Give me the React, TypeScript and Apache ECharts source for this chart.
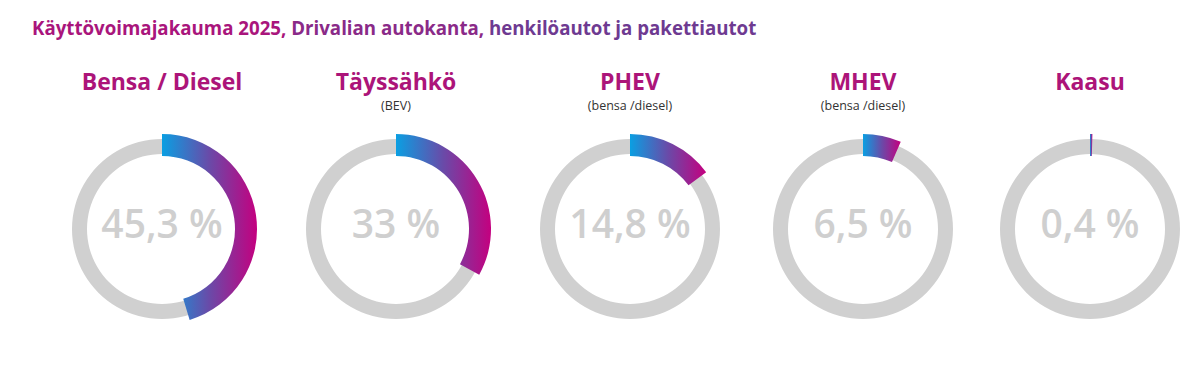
import React, { useEffect, useRef } from "react";
import * as echarts from "echarts";

const titleParts = ["Käyttövoimajakauma 2025, ", "Drivalian autokanta, ", "henkilöautot ja pakettiautot"];
const titleColors = ["#a9157c", "#8a2a88", "#6e3a91"];
const names = ["Bensa / Diesel", "Täyssähkö", "PHEV", "MHEV", "Kaasu"];
const subNames = ["", "(BEV)", "(bensa /diesel)", "(bensa /diesel)", ""];
const shares = [45.3, 33, 14.8, 6.5, 0.4];
const centersX = [162, 396, 630, 863, 1090];

const CY = 229;
const FONT = "'Open Sans', Lato, sans-serif";

function fmt(v: number) {
  return String(v).replace(".", ",") + " %";
}

export default function App() {
  const ref = useRef<HTMLDivElement>(null);
  useEffect(() => {
    if (!ref.current) return;
    const chart = echarts.init(ref.current, undefined, { renderer: "svg" });
    const series: any[] = [];
    const graphic: any[] = [];
    names.forEach((n, i) => {
      const cx = centersX[i];
      series.push({
        type: "pie",
        silent: true,
        center: [cx, CY],
        radius: [75, 90],
        startAngle: 90,
        label: { show: false },
        labelLine: { show: false },
        itemStyle: { color: "#d0d0d0" },
        data: [{ value: 100, name: n + "-bg" }],
        z: 1,
      });
      series.push({
        type: "pie",
        silent: true,
        center: [cx, CY],
        radius: [73, 95],
        startAngle: 90,
        clockwise: true,
        minAngle: 0,
        labelLine: { show: false },
        data: [
          {
            value: shares[i],
            name: n,
            itemStyle: {
              color: new echarts.graphic.LinearGradient(0, 0, 1, 0, [
                { offset: 0, color: "#0a9fe2" },
                { offset: 0.5, color: "#6a4aa8" },
                { offset: 1, color: "#c4007f" },
              ]),
            },
            label: {
              show: true,
              position: "center",
              formatter: fmt(shares[i]),
              fontFamily: FONT,
              fontWeight: 600,
              fontSize: 39,
              color: "#cfcfcf",
              offset: [0, -7],
            },
          },
          {
            value: 100 - shares[i],
            name: n + "-rest",
            itemStyle: { color: "transparent" },
            label: { show: false },
          },
        ],
        z: 2,
      });
      graphic.push({
        type: "text",
        x: cx,
        y: 81,
        style: {
          text: n,
          align: "center",
          verticalAlign: "middle",
          font: `bold 23px ${FONT}`,
          fill: "#ac1479",
        },
      });
      if (subNames[i]) {
        graphic.push({
          type: "text",
          x: cx,
          y: 105,
          style: {
            text: subNames[i],
            align: "center",
            verticalAlign: "middle",
            font: `12.5px ${FONT}`,
            fill: "#333333",
          },
        });
      }
    });
    const rich: any = {};
    titleParts.forEach((_, i) => {
      rich["p" + i] = {
        fontFamily: FONT,
        fontWeight: "bold",
        fontSize: 18.7,
        fill: titleColors[i],
        color: titleColors[i],
      };
    });
    graphic.push({
      type: "text",
      x: 32,
      y: 27,
      style: {
        text: titleParts.map((p, i) => `{p${i}|${p}}`).join(""),
        align: "left",
        verticalAlign: "middle",
        rich,
      },
    });
    chart.setOption({
      animation: false,
      backgroundColor: "#ffffff",
      series,
      graphic,
    });
    return () => chart.dispose();
  }, []);
  return (
    <div
      ref={ref}
      style={{ position: "fixed", left: 0, top: 0, width: 1197, height: 385 }}
    />
  );
}
